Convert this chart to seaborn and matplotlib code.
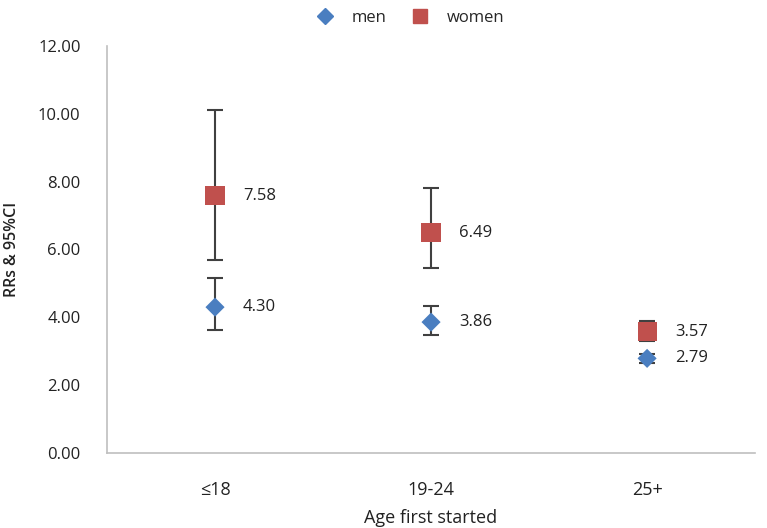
import matplotlib
matplotlib.use("Agg")
import matplotlib.pyplot as plt
import seaborn as sns
import pandas as pd
import numpy as np

categories = ["≤18", "19-24", "25+"]
men_rr = [4.30, 3.86, 2.79]
men_lo = [3.63, 3.48, 2.66]
men_hi = [5.16, 4.34, 2.93]
women_rr = [7.58, 6.49, 3.57]
women_lo = [5.69, 5.46, 3.30]
women_hi = [10.12, 7.82, 3.89]

sns.set_theme(style="white")
plt.rcParams['font.family'] = ['Open Sans', 'DejaVu Sans']

men_color = "#4A7EC0"
women_color = "#C0504D"

df = pd.DataFrame({
    "cat": categories * 2,
    "rr": men_rr + women_rr,
    "sex": ["men"] * 3 + ["women"] * 3,
})

fig = plt.figure(figsize=(7.67, 5.28), dpi=100)
ax = fig.add_axes([0.1395, 0.142, 0.845, 0.771])

x = np.arange(len(categories))
for rr, lo, hi in [(men_rr, men_lo, men_hi), (women_rr, women_lo, women_hi)]:
    rr = np.array(rr); lo = np.array(lo); hi = np.array(hi)
    ax.errorbar(x, rr, yerr=[rr - lo, hi - rr], fmt="none", ecolor="#404040",
                elinewidth=1.5, capsize=6, capthick=1.5, zorder=2)

sns.scatterplot(data=df, x="cat", y="rr", hue="sex", style="sex",
                markers={"men": "D", "women": "s"},
                palette={"men": men_color, "women": women_color},
                s=150, edgecolor="none", ax=ax, zorder=3, legend=False)
coll = ax.collections[-1]
sizes = [95 if s == "men" else 190 for s in df["sex"]]
coll.set_sizes(sizes)

for xi, v in zip(x, men_rr):
    ax.text(xi + 0.13, v, f"{v:.2f}", va="center", ha="left", fontsize=12, color="#222222")
for xi, v in zip(x, women_rr):
    ax.text(xi + 0.13, v, f"{v:.2f}", va="center", ha="left", fontsize=12, color="#222222")

ax.set_xlim(-0.5, 2.5)
ax.set_ylim(0, 12)
ax.set_yticks(np.arange(0, 12.01, 2))
ax.set_yticklabels([f"{t:.2f}" for t in np.arange(0, 12.01, 2)])
ax.set_xticks(x)
ax.set_xticklabels(categories)
ax.tick_params(axis="y", length=0, labelsize=12, colors="#222222", pad=19)
ax.tick_params(axis="x", length=0, labelsize=13, colors="#222222", pad=20)
ax.set_xlabel("Age first started", fontsize=13, color="#222222")
ax.set_ylabel("RRs & 95%CI", fontsize=11.5, color="#222222", fontweight="semibold")
ax.xaxis.set_label_coords(0.5, -0.138)
ax.yaxis.set_label_coords(-0.134, 0.5)
for sp in ["top", "right"]:
    ax.spines[sp].set_visible(False)
for sp in ["left", "bottom"]:
    ax.spines[sp].set_color("#BFBFBF")
    ax.spines[sp].set_linewidth(1.2)

from matplotlib.lines import Line2D
handles = [
    Line2D([], [], marker="D", linestyle="none", color=men_color, markersize=8),
    Line2D([], [], marker="s", linestyle="none", color=women_color, markersize=10),
]
fig.legend(handles, ["men", "women"], loc="upper center", bbox_to_anchor=(0.53, 1.01),
           ncol=2, frameon=False, fontsize=12, handletextpad=0.6, columnspacing=1.0)

fig.savefig("out.png", dpi=100)
